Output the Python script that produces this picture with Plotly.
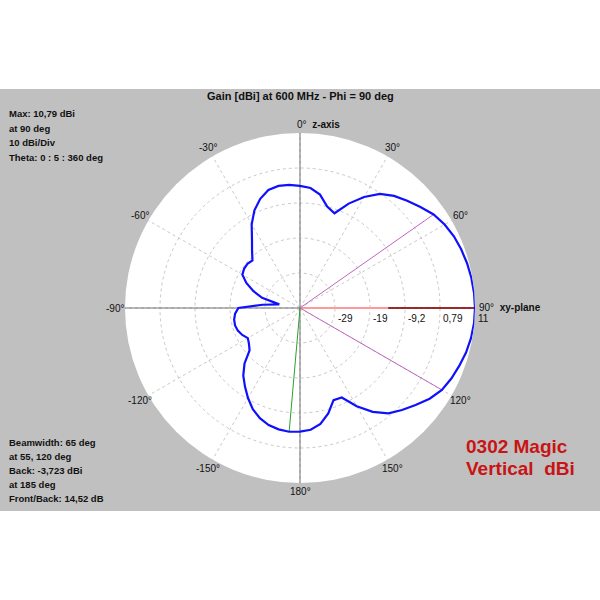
import plotly.graph_objects as go
import math

# ---------------- data ----------------
theta_deg = list(range(0, 360, 5))
gain_dbi = [
    -4.3, -4.8, -6.3, -9.2, -10.4, -6.3, -2.6, 0.6, 2.6, 4.1, 5.7, 7.4,
    8.5, 9.3, 9.8, 10.2, 10.5, 10.7, 10.79, 10.7, 10.4, 9.9, 9.2, 8.5,
    7.6, 6.0, 3.9, 2.0, 0.1, -3.0, -6.8, -11.0, -11.2, -8.0, -5.6, -4.3,
    -3.9, -3.72, -4.0, -4.6, -5.7, -7.3, -9.5, -11.8, -14.0, -16.8, -20.4, -21.4,
    -22.0, -21.0, -20.3, -20.0, -20.1, -20.6, -21.6, -28.5, -33.2, -28.0, -25.0, -22.3,
    -20.2, -19.7, -19.6, -20.0, -17.9, -15.3, -11.6, -8.4, -6.0, -4.3, -3.8, -3.9,
]
max_gain = 10.79
max_angle = 90
beam_angles = [55, 120]
back_angle = 185
back_gain = -3.723
red_split = -14.0
db_per_div = 10
n_div = 5
ring_values = [-29.21, -19.21, -9.21, 0.79, 10.79]
ring_labels = ["-29", "-19", "-9,2", "0,79", "11"]
angle_ticks = [30, 60, 120, 150, -150, -120, -60, -30]
angle_tick_labels = ["30°", "60°", "120°", "150°", "-150°", "-120°", "-60°", "-30°"]

title_text = "Gain [dBi] at 600 MHz - Phi = 90 deg"
info_top = ["Max: 10,79 dBi", "at 90 deg", "10 dBi/Div", "Theta: 0 : 5 : 360 deg"]
info_bottom = ["Beamwidth: 65 deg", "at 55, 120 deg", "Back: -3,723 dBi", "at 185 deg", "Front/Back: 14,52 dB"]
label_lines = ["0302 Magic", "Vertical\u00a0\u00a0dBi"]

# ---------------- layout helpers ----------------
W = H = 600
cx, cy, R = 300, 308, 175
rmin = max_gain - db_per_div * n_div
rmax = max_gain


def px(x):
    return x / W


def py(y):
    return 1 - y / H


FONT = "Liberation Sans, Arial, sans-serif"

fig = go.Figure()

# axis lines (solid)
fig.add_trace(go.Scatterpolar(theta=[0, 0, 180], r=[rmax, rmin, rmax], mode="lines",
                              line=dict(color="#707070", width=1), hoverinfo="skip", showlegend=False))
fig.add_trace(go.Scatterpolar(theta=[270, 270, 90], r=[rmax, rmin, rmax], mode="lines",
                              line=dict(color="#707070", width=1), hoverinfo="skip", showlegend=False))

# max direction lines
fig.add_trace(go.Scatterpolar(theta=[max_angle, max_angle], r=[rmin, red_split], mode="lines",
                              line=dict(color="#ff9a9a", width=2), hoverinfo="skip", showlegend=False))
fig.add_trace(go.Scatterpolar(theta=[max_angle, max_angle], r=[red_split, max_gain], mode="lines",
                              line=dict(color="#8b0000", width=1.5), hoverinfo="skip", showlegend=False))

# beamwidth lines
for a in beam_angles:
    g = gain_dbi[theta_deg.index(a)]
    fig.add_trace(go.Scatterpolar(theta=[a, a], r=[rmin, g], mode="lines",
                                  line=dict(color="#c066c0", width=1), hoverinfo="skip", showlegend=False))

# back line
fig.add_trace(go.Scatterpolar(theta=[back_angle, back_angle], r=[rmin, back_gain], mode="lines",
                              line=dict(color="#2ca02c", width=1), hoverinfo="skip", showlegend=False))

# pattern
fig.add_trace(go.Scatterpolar(theta=theta_deg + [theta_deg[0]], r=gain_dbi + [gain_dbi[0]], mode="lines",
                              line=dict(color="#1010ff", width=2.2), showlegend=False))

fig.update_layout(
    width=W, height=H,
    margin=dict(l=0, r=0, t=0, b=0),
    paper_bgcolor="white",
    showlegend=False,
    polar=dict(
        domain=dict(x=[px(cx - R), px(cx + R)], y=[py(cy + R), py(cy - R)]),
        bgcolor="white",
        radialaxis=dict(range=[rmin, rmax], tickvals=ring_values[:-1], showticklabels=False,
                        ticks="", showline=False, gridcolor="#c8c8c8", griddash="dot", gridwidth=1),
        angularaxis=dict(rotation=90, direction="clockwise", tickmode="linear", tick0=0, dtick=30,
                         showticklabels=False, ticks="", showline=False,
                         gridcolor="#c8c8c8", griddash="dot", gridwidth=1),
    ),
    shapes=[dict(type="rect", xref="paper", yref="paper", x0=0, x1=1, y0=py(511), y1=py(89),
                 fillcolor="#c0c0c0", line=dict(width=0), layer="below")],
)

ann = []


def add_text(x, y, text, size=9.5, bold=False, xanchor="left", color="#111111"):
    t = f"<b>{text}</b>" if bold else text
    ann.append(dict(x=px(x), y=py(y), xref="paper", yref="paper", text=t, showarrow=False,
                    xanchor=xanchor, yanchor="middle", font=dict(family=FONT, size=size, color=color)))


add_text(cx, 96, title_text, size=11, bold=True, xanchor="center")
for i, s in enumerate(info_top):
    add_text(7, 113 + i * 15, s, bold=True)
for i, s in enumerate(info_bottom):
    add_text(7, 442 + i * 14.2, s, bold=True)
add_text(464, 446, label_lines[0], size=19, bold=True, color="#c81414")
add_text(464, 468, label_lines[1], size=19, bold=True, color="#c81414")

# angle labels
lr = 185
for a, t in zip(angle_ticks, angle_tick_labels):
    ar = math.radians(a)
    add_text(cx + lr * math.sin(ar), cy - lr * math.cos(ar), t, size=10, xanchor="center")
add_text(cx - 5, cy - 184, "0°\u00a0\u00a0<b>z-axis</b>", size=10)
add_text(cx + R + 2, cy - 1, "90°\u00a0\u00a0<b>xy-plane</b>", size=10)
add_text(cx, cy + 184, "180°", size=10, xanchor="center")
add_text(cx - R + 1, cy, "-90°", size=10, xanchor="right")

# radial labels
for v, t in zip(ring_values, ring_labels):
    rp = (v - rmin) / (rmax - rmin) * R
    add_text(cx + rp + 1, cy + 10, t, size=10)

fig.update_layout(annotations=ann)
fig.write_html("out.html", config={"displayModeBar": False},
               post_script="document.body.style.margin='0';document.body.style.overflow='hidden';")
